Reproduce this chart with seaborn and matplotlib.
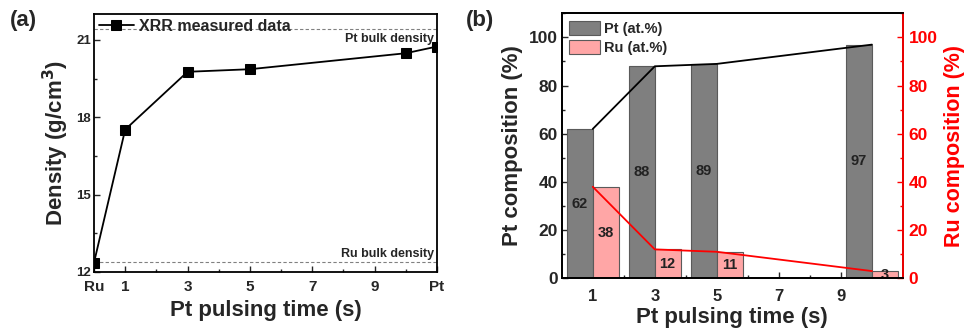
import pandas as pd
import matplotlib.pyplot as plt
import seaborn as sns
from matplotlib.ticker import MultipleLocator, FixedLocator

sns.set_theme(style="ticks")
plt.rcParams['font.family'] = ['Liberation Sans', 'DejaVu Sans']
plt.rcParams['font.weight'] = 'bold'
plt.rcParams['axes.labelweight'] = 'bold'
plt.rcParams['xtick.direction'] = 'in'
plt.rcParams['ytick.direction'] = 'in'

# (a) XRR density vs Pt pulsing time (Ru = 0, Pt = 11 on the axis)
time_a = [0, 1, 3, 5, 10, 11]
density = [12.36, 17.52, 19.76, 19.86, 20.48, 20.74]
xtick_pos_a = [0, 1, 3, 5, 7, 9, 11]
xtick_lab_a = ['Ru', '1', '3', '5', '7', '9', 'Pt']
pt_bulk = 21.4
ru_bulk = 12.4

# (b) composition
time_b = [1, 3, 5, 10]
pt_comp = [62, 88, 89, 97]
ru_comp = [38, 12, 11, 3]

df_a = pd.DataFrame({'time': time_a, 'density': density})
df_b = pd.DataFrame({'time': time_b, 'Pt': pt_comp, 'Ru': ru_comp})
long_b = pd.concat([
    pd.DataFrame({'time': time_b, 'value': pt_comp, 'element': 'Pt (at.%)'}),
    pd.DataFrame({'time': time_b, 'value': ru_comp, 'element': 'Ru (at.%)'}),
], ignore_index=True)

fig = plt.figure(figsize=(9.67, 3.29), dpi=100)
ax1 = fig.add_axes([0.0972, 0.1733, 0.3547, 0.7841])
ax2 = fig.add_axes([0.5809, 0.1541, 0.3529, 0.8055])

# ---- panel (a)
ax1.axhline(pt_bulk, color='gray', ls=(0, (3, 2)), lw=0.8, zorder=1)
ax1.axhline(ru_bulk, color='gray', ls=(0, (3, 2)), lw=0.8, zorder=1)
sns.lineplot(data=df_a, x='time', y='density', ax=ax1, color='black', marker='s',
             markersize=6.5, markeredgecolor='black', lw=1.3, label='XRR measured data', zorder=3)
ax1.text(10.9, pt_bulk - 0.12, 'Pt bulk density', ha='right', va='top', fontsize=9, fontweight='bold')
ax1.text(10.9, ru_bulk + 0.08, 'Ru bulk density', ha='right', va='bottom', fontsize=9, fontweight='bold')
ax1.set_xlim(0, 11)
ax1.set_ylim(12, 22)
ax1.xaxis.set_major_locator(FixedLocator(xtick_pos_a))
ax1.set_xticklabels(xtick_lab_a)
ax1.xaxis.set_minor_locator(FixedLocator([2, 4, 6, 8, 10]))
ax1.yaxis.set_major_locator(FixedLocator([12, 15, 18, 21]))
ax1.yaxis.set_minor_locator(MultipleLocator(1.5))
ax1.tick_params(axis='x', labelsize=11, length=4, width=1, pad=6)
ax1.tick_params(axis='y', labelsize=9.5, length=4, width=1, pad=2)
ax1.tick_params(which='minor', length=2.5, width=1)
ax1.set_xlabel('Pt pulsing time (s)', fontsize=16, labelpad=4)
ax1.set_ylabel('Density (g/cm$^\\mathbf{3}$)', fontsize=16, labelpad=4)
for sp in ax1.spines.values():
    sp.set_linewidth(1.3)
    sp.set_color('black')
ax1.legend(loc='upper left', frameon=False, fontsize=11.5, handlelength=2.2,
           borderaxespad=0.1, handletextpad=0.3, borderpad=0.2)

# ---- panel (b)
sns.barplot(data=long_b, x='time', y='value', hue='element', ax=ax2, native_scale=True,
            dodge=True, width=0.83, palette={'Pt (at.%)': '#7f7f7f', 'Ru (at.%)': '#ffa6a6'},
            edgecolor='#5a5a5a', linewidth=0.8, saturation=1, zorder=2)
for cont in ax2.containers:
    ax2.bar_label(cont, label_type='center', fontsize=10.5, fontweight='bold', color='#222222')
sns.lineplot(data=df_b, x='time', y='Pt', ax=ax2, color='black', lw=1.3, zorder=4)
ax2r = ax2.twinx()
sns.lineplot(data=df_b, x='time', y='Ru', ax=ax2r, color='red', lw=1.3, zorder=4)

ax2.set_xlim(0, 11)
ax2.set_ylim(0, 110)
ax2r.set_ylim(0, 110)
ax2.xaxis.set_major_locator(FixedLocator([1, 3, 5, 7, 9]))
ax2.xaxis.set_minor_locator(FixedLocator([2, 4, 6, 8, 10]))
for a in (ax2, ax2r):
    a.yaxis.set_major_locator(MultipleLocator(20))
    a.yaxis.set_minor_locator(MultipleLocator(10))
ax2.tick_params(axis='x', labelsize=12, length=4, width=1, pad=8)
ax2.tick_params(axis='y', labelsize=12.5, length=4, width=1, pad=3)
ax2.tick_params(which='minor', length=2.5, width=1)
ax2r.tick_params(axis='y', labelsize=12.5, length=4, width=1, colors='red', pad=4)
ax2r.tick_params(axis='y', which='minor', length=2.5, width=1, colors='red')
ax2.set_xlabel('Pt pulsing time (s)', fontsize=16, labelpad=2)
ax2.set_ylabel('Pt composition (%)', fontsize=16, labelpad=4)
ax2r.set_ylabel('Ru composition (%)', fontsize=15.5, color='red', labelpad=5)
for sp in ax2.spines.values():
    sp.set_linewidth(1.3)
    sp.set_color('black')
for name, sp in ax2r.spines.items():
    sp.set_linewidth(1.3)
    sp.set_color('black')
ax2r.spines['right'].set_color('red')

handles, labels = ax2.get_legend_handles_labels()
ax2.legend(handles[:2], labels[:2], loc='upper left', frameon=False, fontsize=10.5,
           handlelength=2.1, handleheight=1.1, handletextpad=0.3, labelspacing=0.3,
           borderaxespad=0.3, borderpad=0.2)

fig.text(0.010, 0.92, '(a)', fontsize=16, fontweight='bold')
fig.text(0.482, 0.92, '(b)', fontsize=16, fontweight='bold')

fig.savefig('out.png', dpi=100)
